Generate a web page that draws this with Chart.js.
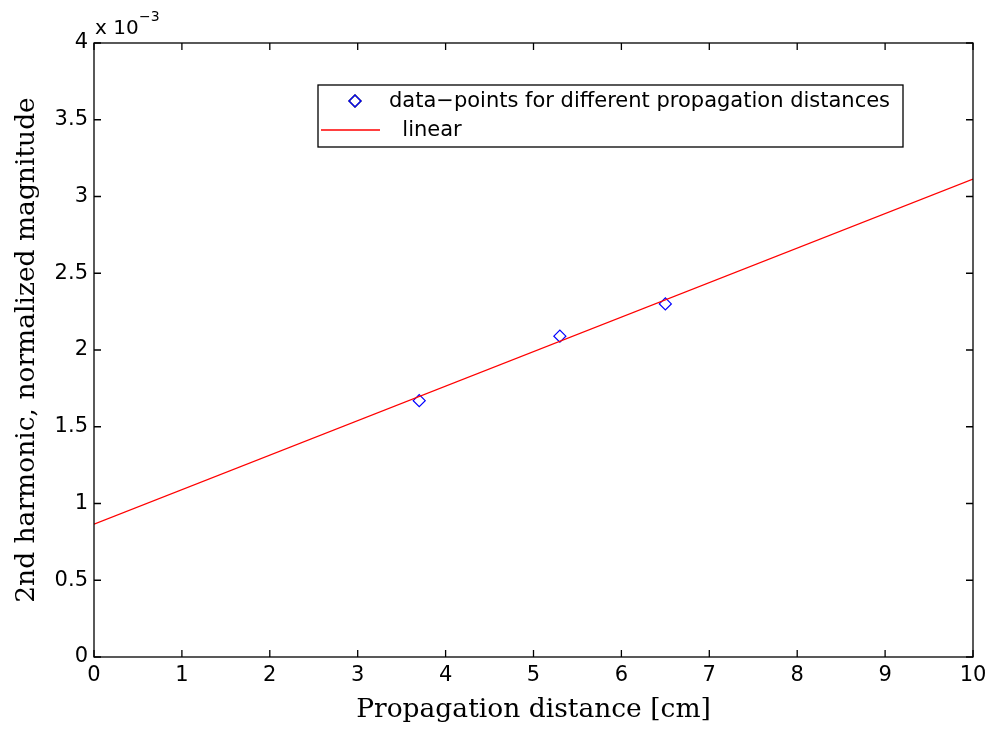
<!DOCTYPE html>
<html>
<head>
<meta charset="utf-8">
<script src="https://cdn.jsdelivr.net/npm/chart.js@4.4.1/dist/chart.umd.min.js"></script>
<style>
  html, body { margin: 0; padding: 0; background: #fff; }
</style>
</head>
<body>
<canvas id="harmonicChart" width="993" height="730"></canvas>
<script>
// measured second-harmonic magnitudes (units of 1e-3)
const distances = [3.7, 5.3, 6.5];
const magnitudes = [1.67, 2.09, 2.30];

// linear fit, evaluated at both ends of the axis
const fitDistances = [0, 10];
const fitMagnitudes = [0.865, 3.113];

const xTicks = [0, 1, 2, 3, 4, 5, 6, 7, 8, 9, 10];
const xTickLabels = ['0', '1', '2', '3', '4', '5', '6', '7', '8', '9', '10'];
const yTicks = [0, 0.5, 1, 1.5, 2, 2.5, 3, 3.5, 4];
const yTickLabels = ['0', '0.5', '1', '1.5', '2', '2.5', '3', '3.5', '4'];

const sansFont = 'DejaVu Sans';
const serifFont = 'DejaVu Serif';

// frame around the plot with inward tick marks on all four sides
const boxPlugin = {
    id: 'boxPlugin',
    afterDatasetsDraw(chart) {
        const ctx = chart.ctx;
        const a = chart.chartArea;
        const xs = chart.scales.x;
        const ys = chart.scales.y;
        const len = 7;
        ctx.save();
        ctx.strokeStyle = '#000';
        ctx.lineWidth = 1.3;
        ctx.beginPath();
        xTicks.forEach(v => {
            const px = xs.getPixelForValue(v);
            ctx.moveTo(px, a.bottom); ctx.lineTo(px, a.bottom - len);
            ctx.moveTo(px, a.top); ctx.lineTo(px, a.top + len);
        });
        yTicks.forEach(v => {
            const py = ys.getPixelForValue(v);
            ctx.moveTo(a.left, py); ctx.lineTo(a.left + len, py);
            ctx.moveTo(a.right, py); ctx.lineTo(a.right - len, py);
        });
        ctx.stroke();
        ctx.strokeRect(a.left, a.top, a.right - a.left, a.bottom - a.top);

        // exponent note above the y axis
        ctx.fillStyle = '#000';
        ctx.textAlign = 'left';
        ctx.textBaseline = 'alphabetic';
        ctx.font = '20px "' + sansFont + '"';
        ctx.fillText('x 10', a.left + 1, 34);
        ctx.font = '14px "' + sansFont + '"';
        ctx.fillText('\u22123', a.left + 45, 21);
        ctx.restore();
    }
};

// boxed legend in the upper middle of the plot
const legendPlugin = {
    id: 'boxLegend',
    afterDraw(chart) {
        const ctx = chart.ctx;
        const left = 318, top = 85, right = 903, bottom = 147;
        const rows = [101, 130];
        ctx.save();
        ctx.fillStyle = '#fff';
        ctx.fillRect(left, top, right - left, bottom - top);
        ctx.strokeStyle = '#000';
        ctx.lineWidth = 1.3;
        ctx.strokeRect(left, top, right - left, bottom - top);
        ctx.font = '21px "' + sansFont + '"';
        ctx.textBaseline = 'middle';
        ctx.textAlign = 'left';
        chart.data.datasets.forEach((ds, i) => {
            const y = rows[i];
            if (ds.showLine) {
                ctx.strokeStyle = ds.borderColor;
                ctx.lineWidth = ds.borderWidth;
                ctx.beginPath();
                ctx.moveTo(321, y);
                ctx.lineTo(380, y);
                ctx.stroke();
            } else {
                Chart.helpers.drawPoint(ctx, {
                    pointStyle: ds.pointStyle,
                    radius: ds.pointRadius,
                    borderWidth: ds.borderWidth
                }, 355, y);
                ctx.strokeStyle = ds.borderColor;
                ctx.lineWidth = ds.borderWidth;
                ctx.stroke();
            }
            ctx.fillStyle = '#000';
            ctx.fillText(ds.label, 389, y + 1);
        });
        ctx.restore();
    }
};

const ctx = document.getElementById('harmonicChart').getContext('2d');
const chart = new Chart(ctx, {
    type: 'scatter',
    data: {
        datasets: [{
            label: 'data\u2212points for different propagation distances',
            data: distances.map((d, i) => ({ x: d, y: magnitudes[i] })),
            pointStyle: 'rectRot',
            pointRadius: 6,
            pointHoverRadius: 6,
            borderColor: '#0000ff',
            backgroundColor: 'rgba(0,0,0,0)',
            borderWidth: 1.2,
            showLine: false,
            order: 1
        }, {
            label: '  linear',
            data: fitDistances.map((d, i) => ({ x: d, y: fitMagnitudes[i] })),
            showLine: true,
            borderColor: '#ff0000',
            borderWidth: 1.3,
            pointRadius: 0,
            order: 0
        }]
    },
    options: {
        responsive: false,
        animation: false,
        layout: { padding: { top: 43, right: 20, left: 0, bottom: 0 } },
        plugins: {
            legend: { display: false },
            tooltip: { enabled: false }
        },
        scales: {
            x: {
                type: 'linear',
                min: 0,
                max: 10,
                afterBuildTicks: scale => { scale.ticks = xTicks.map(v => ({ value: v })); },
                afterFit: scale => { scale.height = 73; },
                grid: { display: false, drawTicks: false },
                border: { display: false },
                ticks: {
                    padding: 6,
                    color: '#000',
                    font: { family: sansFont, size: 21 },
                    maxRotation: 0,
                    autoSkip: false,
                    callback: (value, i) => xTickLabels[i]
                },
                title: {
                    display: true,
                    text: 'Propagation distance [cm]',
                    color: '#000',
                    font: { family: serifFont, size: 26.5 },
                    padding: { top: 0, bottom: 4 }
                }
            },
            y: {
                type: 'linear',
                min: 0,
                max: 4,
                afterBuildTicks: scale => { scale.ticks = yTicks.map(v => ({ value: v })); },
                afterFit: scale => { scale.width = 94; },
                grid: { display: false, drawTicks: false },
                border: { display: false },
                ticks: {
                    padding: 6,
                    color: '#000',
                    font: { family: sansFont, size: 21 },
                    autoSkip: false,
                    callback: (value, i) => yTickLabels[i]
                },
                title: {
                    display: true,
                    text: '2nd harmonic, normalized magnitude',
                    color: '#000',
                    font: { family: serifFont, size: 26.5 },
                    padding: { top: 11, bottom: 0 }
                }
            }
        }
    },
    plugins: [boxPlugin, legendPlugin]
});
</script>
</body>
</html>
